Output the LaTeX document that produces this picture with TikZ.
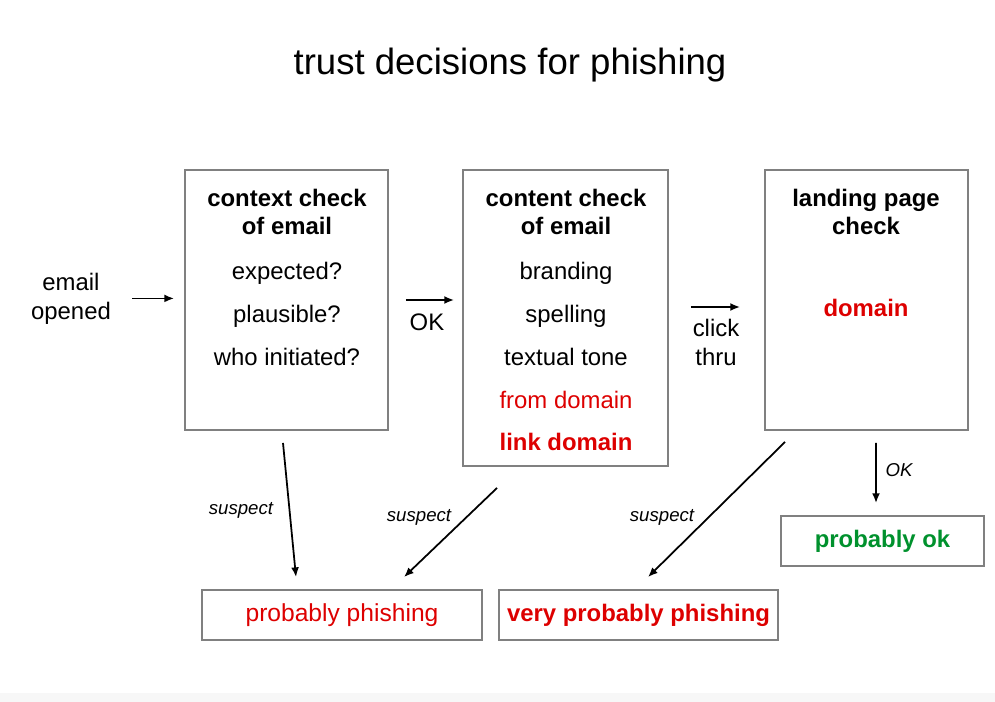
\documentclass[tikz,border=0pt]{standalone}
\usepackage{fontspec}
\setmainfont{Liberation Sans}
\usetikzlibrary{arrows.meta}
\definecolor{boxgray}{RGB}{128,128,128}
\definecolor{alertred}{RGB}{221,0,0}
\definecolor{okgreen}{RGB}{0,145,45}
\tikzset{
  box/.style={draw=boxgray, line width=1.1pt, inner sep=0pt},
  head/.style={font=\bfseries\fontsize{13.6}{16.4}\selectfont, align=center, anchor=base},
  body/.style={font=\fontsize{13.6}{24.4}\selectfont, align=center, anchor=base},
  plain/.style={font=\fontsize{13.6}{16.4}\selectfont, align=center, anchor=base},
  lbl/.style={font=\itshape\fontsize{10.6}{12}\selectfont, anchor=base},
  arr/.style={->, >={Latex[length=5.5pt,width=4.5pt]}, line width=1pt}
}
\begin{document}
\begin{tikzpicture}
    \useasboundingbox (0,0) rectangle (19.9,-14.04);
    \fill[black!3] (0,-13.85) rectangle (19.9,-14.04);
    \node[font=\fontsize{20.8}{24}\selectfont, anchor=base] (title) at (10.2,-1.5) {trust decisions for phishing};
    % the three checks
    \node[box, minimum width=4.06cm, minimum height=5.2cm] (box_1) at (5.73,-6.0) {};
    \node[box, minimum width=4.1cm, minimum height=5.92cm] (box_2) at (11.31,-6.36) {};
    \node[box, minimum width=4.06cm, minimum height=5.2cm] (box_3) at (17.33,-6.0) {};
    \node[head] (head_1) at (5.74,-4.70) {context check\\of email};
    \node[body] (body_1) at (5.74,-7.30) {expected?\\plausible?\\who initiated?};
    \node[head] (head_2) at (11.32,-4.70) {content check\\of email};
    \node[body] (body_2) at (11.32,-7.30) {branding\\spelling\\textual tone};
    \node[plain, text=alertred] (from_dom) at (11.32,-8.16) {from domain};
    \node[head, text=alertred] (link_dom) at (11.32,-9.0) {link domain};
    \node[head] (head_3) at (17.32,-4.70) {landing page\\check};
    \node[head, text=alertred] (land_dom) at (17.32,-6.34) {domain};
    % outcomes
    \node[box, minimum width=4.06cm, minimum height=1.0cm, text=okgreen, font=\bfseries\fontsize{13.6}{16}\selectfont] (res_ok) at (17.65,-10.82) {probably ok};
    \node[box, minimum width=5.6cm, minimum height=1.0cm, text=alertred, font=\fontsize{14}{16}\selectfont] (res_1) at (6.84,-12.3) {probably phishing};
    \node[box, minimum width=5.58cm, minimum height=1.0cm, text=alertred, font=\bfseries\fontsize{13.6}{16}\selectfont] (res_2) at (12.77,-12.3) {very probably phishing};
    \node[plain] (email) at (1.42,-6.38) {email\\opened};
    % flow
    \draw[arr, shorten <=0.3cm, shorten >=0.2cm] (email.east) -- (email.east -| box_1.west);
    \draw[arr, shorten <=0.34cm, shorten >=0.16cm] (box_1.east) -- (box_1.east -| box_2.west);
    \node[plain] (ok_1) at (8.54,-6.62) {OK};
    \draw[arr, shorten <=0.44cm, shorten >=0.48cm] ([yshift=-0.14cm]box_3.west -| box_2.east) -- ([yshift=-0.14cm]box_3.west);
    \node[plain] (click) at (14.32,-7.3) {click\\thru};
    \draw[arr] ([shift={(0.19,-0.24)}]box_3.south) -- ([shift={(-0.13,0.24)}]res_ok.north);
    \node[lbl] (ok_2) at (17.98,-9.52) {OK};
    \draw[arr] ([shift={(-0.07,-0.24)}]box_1.south) -- ([shift={(-0.92,0.24)}]res_1.north);
    \node[lbl] (sus_1) at (4.82,-10.28) {suspect};
    \draw[arr] ([shift={(-1.37,-0.42)}]box_2.south) -- ([shift={(1.24,0.24)}]res_1.north);
    \node[lbl] (sus_2) at (8.38,-10.42) {suspect};
    \draw[arr] ([shift={(-1.63,-0.22)}]box_3.south) -- ([shift={(0.19,0.24)}]res_2.north);
    \node[lbl] (sus_3) at (13.24,-10.42) {suspect};
  \end{tikzpicture}
\end{document}
